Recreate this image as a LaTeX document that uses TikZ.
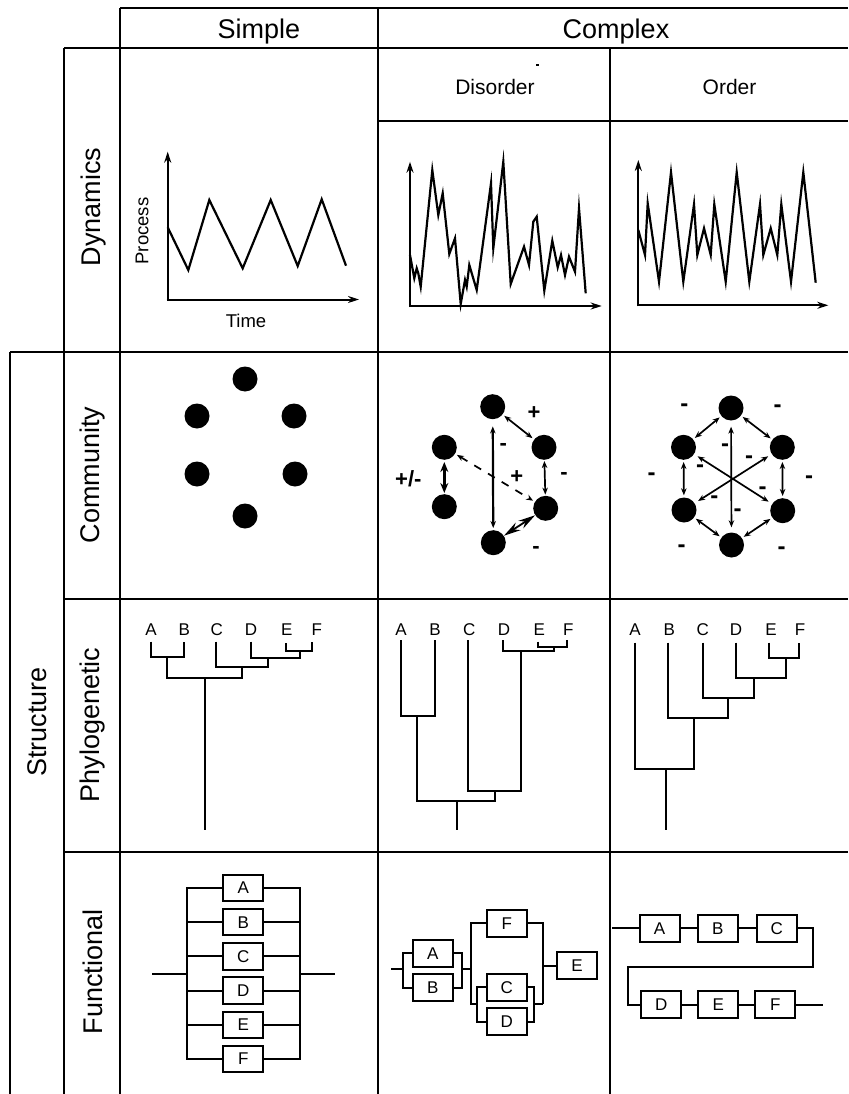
\documentclass[tikz,border=0pt]{standalone}
\usepackage{fontspec}
\setmainfont{Liberation Sans}
\usetikzlibrary{arrows.meta}
\begin{document}
\begin{tikzpicture}[x=1pt,y=-1pt,
  grid/.style={line width=2pt},
  curve/.style={line width=2.2pt, line join=miter, miter limit=25},
  axis/.style={line width=2pt,-{Stealth[length=11pt,width=7pt]}},
  hdr/.style={font=\fontsize{27}{30}\selectfont, inner sep=0pt, anchor=base},
  sub/.style={font=\fontsize{21}{24}\selectfont, inner sep=0pt, anchor=base},
  rowlab/.style={font=\fontsize{27}{30}\selectfont, rotate=90, inner sep=0pt},
  small/.style={font=\fontsize{18.5}{20}\selectfont, inner sep=0pt},
  dot/.style={circle, fill=black, minimum size=25pt, inner sep=0pt},
  leaf/.style={font=\fontsize{17}{19}\selectfont, inner sep=0pt},
  fbox/.style={draw, line width=2pt, minimum width=40pt, minimum height=26.5pt, inner sep=0pt, font=\fontsize{17}{19}\selectfont},
  wire/.style={line width=2pt},
  tree/.style={line width=2pt},
  dbl/.style={line width=1.7pt, {Stealth[length=7pt,width=5.5pt]}-{Stealth[length=7pt,width=5.5pt]}, shorten <=2pt, shorten >=2pt},
  sign/.style={font=\fontsize{22}{24}\selectfont\bfseries, inner sep=0pt},
  msign/.style={font=\fontsize{24}{26}\selectfont\bfseries, inner sep=0pt},
]
\useasboundingbox (0,0) rectangle (848,1094);
\fill[white] (0,0) rectangle (848,1094);

% ---------------- grid ----------------
\draw[grid] (120,8) -- (848,8);
\draw[grid] (64,48) -- (848,48);
\draw[grid] (378,121) -- (848,121);
\draw[grid] (10,352) -- (848,352);
\draw[grid] (64,599) -- (848,599);
\draw[grid] (64,852) -- (848,852);
\draw[grid] (10,352) -- (10,1094);
\draw[grid] (64,48) -- (64,1094);
\draw[grid] (120,8) -- (120,1094);
\draw[grid] (378,8) -- (378,1094);
\draw[grid] (610,48) -- (610,1094);

% ---------------- headers ----------------
\node[hdr] (hS) at (259,38.7) {Simple};
\node[hdr] (hC) at (616,38.7) {Complex};
\node[sub] (hD) at (495,95) {Disorder};
\node[sub] (hO) at (729.5,95) {Order};
\fill (536,64.5) rectangle (539,66.5);

\node[rowlab] (rDyn) at (93.5,207) {Dynamics};
\node[rowlab] (rCom) at (93,475) {Community};
\node[rowlab] (rPhy) at (93,725) {Phylogenetic};
\node[rowlab] (rFun) at (93,972) {Functional};
\node[rowlab] (rStr) at (37,722) {Structure};

% ---------------- dynamics: simple ----------------
\draw[axis] (167.7,300.5) -- (167.7,151.7);
\draw[axis] (166.7,299.5) -- (359,299.5);
\draw[curve] (167.7,227.3) -- (188.3,270) -- (209.3,200) -- (242.7,268.3) -- (270.7,200) -- (297.7,266) -- (321.7,199.3) -- (346,265.7);
\node[small, rotate=90] (proc) at (142,231) {Process};
\node[small] (time) at (246,321) {Time};

% ---------------- dynamics: disorder ----------------
\draw[axis] (410,307) -- (410,161.7);
\draw[axis] (409,306) -- (601.7,306);
\draw[curve] (410,255) -- (414.3,278.3) -- (416.7,268.3) -- (418.3,273.3) -- (420.7,286.7) -- (432.3,170) -- (438.3,215) -- (442.7,193.3) -- (449.3,254) -- (455,238.3) -- (460.7,304) -- (465,280) -- (466.7,286.7) -- (469.3,265) -- (476.7,290) -- (491,183.3) -- (493.3,248.3) -- (503.3,161.7) -- (510.7,284) -- (524,246.7) -- (529,265) -- (533.3,221.7) -- (536.7,216.7) -- (544.3,290.7) -- (552.3,240.7) -- (557.7,267.3) -- (561,255) -- (565,275) -- (569,256.7) -- (575,271.7) -- (579,208.3) -- (585.7,293.3);

% ---------------- dynamics: order ----------------
\draw[axis] (638.3,306.3) -- (638.3,160);
\draw[axis] (637.3,305.3) -- (828.3,305.3);
\draw[curve] (638.3,230) -- (645,255) -- (647.7,203.3) -- (659,281.7) -- (671,172.3) -- (683.3,281.7) -- (694,204.3) -- (697.3,255) -- (704,228.3) -- (710.7,255) -- (714.3,204.3) -- (725.7,281.7) -- (736.7,172.3) -- (749.3,281.7) -- (760,204.3) -- (763.3,255) -- (770.7,228.3) -- (777.3,255) -- (781.3,204.3) -- (791,281.7) -- (803.3,172.3) -- (815.7,282.7);

% ---------------- community: simple ----------------
\node[dot] (s1) at (245,379) {};
\node[dot] (s2) at (197,416) {};
\node[dot] (s3) at (294,416) {};
\node[dot] (s4) at (197,474) {};
\node[dot] (s5) at (295,474) {};
\node[dot] (s6) at (245,516) {};

% ---------------- community: disorder ----------------
\node[dot] (d1) at (492.7,406.7) {};
\node[dot] (d2) at (444.3,447.3) {};
\node[dot] (d3) at (544,447.3) {};
\node[dot] (d4) at (444.3,506.7) {};
\node[dot] (d5) at (545.7,508.3) {};
\node[dot] (d6) at (493.3,542.7) {};
\draw[dbl, line width=2.2pt, shorten <=7pt, shorten >=2pt] (d1) -- (d6);
\draw[dbl] (d1) -- (d3);
\draw[dbl, shorten <=1pt, shorten >=1pt] (d3) -- (d5);
\draw[line width=3pt, {Stealth[length=10pt,width=8pt]}-{Stealth[length=10pt,width=8pt]}, shorten <=2pt, shorten >=1pt] (d2) -- (d4);
\draw[dbl, dash pattern=on 8pt off 8pt] (d2) -- (d5);
\draw[line width=1.8pt, {Stealth[length=17pt,width=9pt]}-{Stealth[length=17pt,width=9pt]}] (d5) -- (d6);
\node[sign] (p1) at (534,413.3) {+};
\node[sign] (p2) at (564,476) {-};
\node[sign] (p3) at (408.3,478.3) {+/-};
\node[sign] (p4) at (516.7,477.3) {+};
\node[sign] (p5) at (503.3,447.3) {-};
\node[sign] (p6) at (536,550) {-};

% ---------------- community: order ----------------
\node[dot] (o1) at (731,408) {};
\node[dot] (o2) at (683.5,447.3) {};
\node[dot] (o3) at (782.3,447.3) {};
\node[dot] (o4) at (684,510) {};
\node[dot] (o5) at (782.7,510.7) {};
\node[dot] (o6) at (731.5,545) {};
\draw[dbl] (o1) -- (o2);
\draw[dbl] (o1) -- (o3);
\draw[dbl] (o2) -- (o4);
\draw[dbl] (o3) -- (o5);
\draw[dbl] (o4) -- (o6);
\draw[dbl] (o5) -- (o6);
\draw[dbl, shorten <=6pt, shorten >=5pt] (o1) -- (o6);
\draw[dbl, shorten <=4pt, shorten >=4pt] (o2) -- (o5);
\draw[dbl, shorten <=4pt, shorten >=4pt] (o3) -- (o4);
\node[msign] (m1) at (684.3,407.7) {-};
\node[msign] (m2) at (777.7,408.3) {-};
\node[msign] (m3) at (651.7,476.7) {-};
\node[msign] (m4) at (809,480) {-};
\node[msign] (m5) at (681.7,549) {-};
\node[msign] (m6) at (781.7,551) {-};
\node[msign] (m7) at (725,447.3) {-};
\node[msign] (m8) at (749,459.3) {-};
\node[msign] (m9) at (700,469) {-};
\node[msign] (m10) at (762.7,490.7) {-};
\node[msign] (m11) at (714.3,499.3) {-};
\node[msign] (m12) at (737.7,512.3) {-};

% ---------------- phylogenetic: simple ----------------
\node[leaf] (sA) at (151,629.3) {A};
\node[leaf] (sB) at (184.3,629.3) {B};
\node[leaf] (sC) at (216.7,629.3) {C};
\node[leaf] (sD) at (251,629.3) {D};
\node[leaf] (sE) at (286.7,629.3) {E};
\node[leaf] (sF) at (316.7,629.3) {F};
\draw[tree] (151,641.7) |- (184.3,656.7) -- (184.3,641.7);
\draw[tree] (166.7,656.7) |- (242.3,678.3) -- (242.3,666.7);
\draw[tree] (216,641.7) |- (268.3,666.7) -- (268.3,657.7);
\draw[tree] (251,641.7) |- (300,657.7) -- (300,651);
\draw[tree] (285.7,643) |- (312.3,651) -- (312.3,641.7);
\draw[tree] (205,678.3) -- (205,830);

% ---------------- phylogenetic: disorder ----------------
\node[leaf] (dA) at (401,629.3) {A};
\node[leaf] (dB) at (435,629.3) {B};
\node[leaf] (dC) at (469.3,629.3) {C};
\node[leaf] (dD) at (504,629.3) {D};
\node[leaf] (dE) at (539.3,629.3) {E};
\node[leaf] (dF) at (568.3,629.3) {F};
\draw[tree] (401,640) |- (435,716) -- (435,640);
\draw[tree] (417.3,716) |- (495,800.7) -- (495,791);
\draw[tree] (467.7,640) |- (520.7,791) -- (520.7,650.7);
\draw[tree] (503.3,640) |- (554,650.7) -- (554,647.3);
\draw[tree] (538.3,641.7) |- (566.7,647.3) -- (566.7,640);
\draw[tree] (457.3,800.7) -- (457.3,830);

% ---------------- phylogenetic: order ----------------
\node[leaf] (oA) at (635,629.3) {A};
\node[leaf] (oB) at (669.3,629.3) {B};
\node[leaf] (oC) at (702.7,629.3) {C};
\node[leaf] (oD) at (736,629.3) {D};
\node[leaf] (oE) at (771,629.3) {E};
\node[leaf] (oF) at (800,629.3) {F};
\draw[tree] (635,642.7) |- (694,769.3) -- (694,717.7);
\draw[tree] (668.3,642.7) |- (728.3,717.7) -- (728.3,697.7);
\draw[tree] (703.3,642.7) |- (754.3,697.7) -- (754.3,677.7);
\draw[tree] (735.7,642.7) |- (785.7,677.7) -- (785.7,658.3);
\draw[tree] (769,642.7) |- (799,658.3) -- (799,642.7);
\draw[tree] (666,769.3) -- (666,830);

% ---------------- functional: simple ----------------
\node[fbox] (fA) at (243.3,888) {A};
\node[fbox] (fB) at (243.3,922.2) {B};
\node[fbox] (fC) at (243.3,956.4) {C};
\node[fbox] (fD) at (243.3,990.6) {D};
\node[fbox] (fE) at (243.3,1024.8) {E};
\node[fbox] (fF) at (243.3,1059) {F};
\coordinate (sL) at (186.7,974);
\coordinate (sR) at (300,974);
\coordinate (sIn) at (152.3,974);
\coordinate (sOut) at (335,974);
\draw[wire] (fA.west) -| (fF.west -| sL) -- (fF.west);
\draw[wire] (fA.east) -| (fF.east -| sR) -- (fF.east);
\foreach \b in {fB,fC,fD,fE} {
  \draw[wire] (\b.west) -- (\b.west -| sL);
  \draw[wire] (\b.east) -- (\b.east -| sR);
}
\draw[wire] (sIn) -- (sL);
\draw[wire] (sR) -- (sOut);

% ---------------- functional: disorder ----------------
\node[fbox] (gA) at (432.8,953.3) {A};
\node[fbox] (gB) at (432.8,987.5) {B};
\node[fbox] (gF) at (506.7,923.3) {F};
\node[fbox] (gC) at (506.7,987.3) {C};
\node[fbox] (gD) at (506.7,1021.7) {D};
\node[fbox] (gE) at (577,965.7) {E};
\coordinate (gIn) at (391,969);
\coordinate (gL1) at (402.7,969);
\coordinate (gR1) at (462.3,969);
\coordinate (gL2) at (470.7,969);
\coordinate (gLB) at (470.7,1004);
\coordinate (gCL) at (477.3,1004);
\coordinate (gCR) at (534.3,1004);
\coordinate (gRB) at (542.7,1004);
\draw[wire] (gIn) -- (gL1);
\draw[wire] (gA.west) -| (gB.west -| gL1) -- (gB.west);
\draw[wire] (gA.east) -| (gB.east -| gR1) -- (gB.east);
\draw[wire] (gR1) -- (gL2);
\draw[wire] (gF.west) -| (gLB) -- (gCL);
\draw[wire] (gC.west) -| (gD.west -| gCL) -- (gD.west);
\draw[wire] (gC.east) -| (gD.east -| gCR) -- (gD.east);
\draw[wire] (gCR) -- (gRB);
\draw[wire] (gF.east) -| (gRB);
\draw[wire] (gE.west) -- (gE.west -| gRB);

% ---------------- functional: order ----------------
\node[fbox] (hA) at (659.5,928.3) {A};
\node[fbox] (hB) at (717.7,928.3) {B};
\node[fbox] (hCc) at (776.7,928.3) {C};
\node[fbox] (hDd) at (661.3,1004.7) {D};
\node[fbox] (hE) at (718.3,1004.7) {E};
\node[fbox] (hF) at (775.3,1004.7) {F};
\coordinate (hIn) at (612,928.3);
\coordinate (hT1) at (812.7,966.7);
\coordinate (hT2) at (628.3,966.7);
\coordinate (hOut) at (823.3,1004.7);
\draw[wire] (hIn) -- (hA.west);
\draw[wire] (hA.east) -- (hB.west);
\draw[wire] (hB.east) -- (hCc.west);
\draw[wire] (hCc.east) -| (hT1) -- (hT2) |- (hDd.west);
\draw[wire] (hDd.east) -- (hE.west);
\draw[wire] (hE.east) -- (hF.west);
\draw[wire] (hF.east) -- (hOut);
\end{tikzpicture}
\end{document}
